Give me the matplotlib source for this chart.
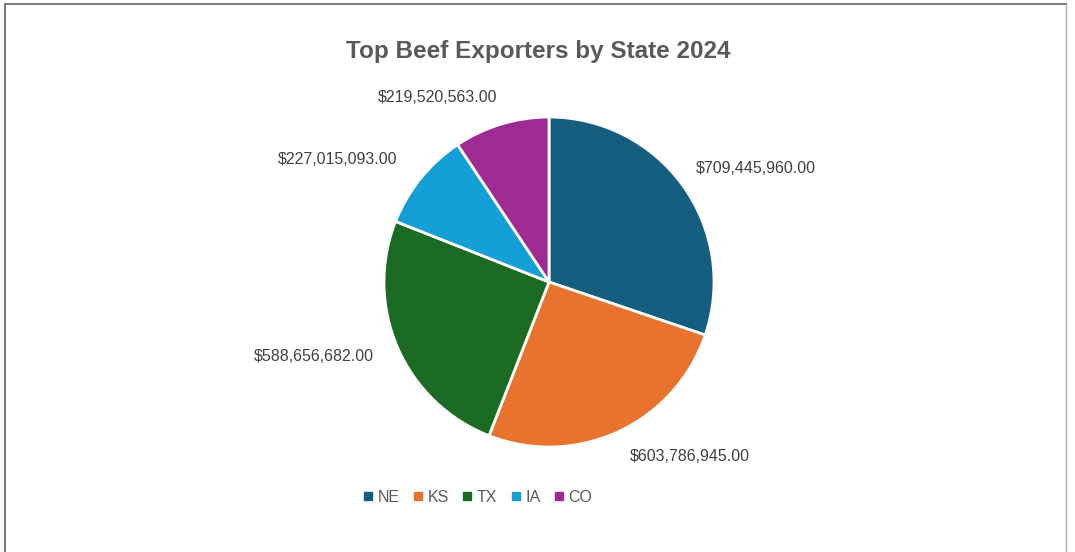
import matplotlib.pyplot as plt
import numpy as np

states = ['NE', 'KS', 'TX', 'IA', 'CO']
exports = [709445960.00, 603786945.00, 588656682.00, 227015093.00, 219520563.00]
colors = ['#165E7F', '#E8732F', '#1B6B25', '#149FD6', '#A02A94']

plt.rcParams['font.family'] = ['Liberation Sans', 'DejaVu Sans']

fig = plt.figure(figsize=(10.75, 5.52), dpi=100)

# chart border (top/left/right only, bottom is cut off)
fig.add_artist(plt.Line2D([0.005, 0.005], [0, 0.993], color='#7f7f7f', lw=1.5, transform=fig.transFigure))
fig.add_artist(plt.Line2D([0.005, 0.992], [0.993, 0.993], color='#7f7f7f', lw=1.5, transform=fig.transFigure))
fig.add_artist(plt.Line2D([0.992, 0.992], [0, 0.993], color='#b0b0b0', lw=1.0, transform=fig.transFigure))

r_px = 165
ax = fig.add_axes([(549 - r_px) / 1075, (552 - 282 - r_px) / 552, 2 * r_px / 1075, 2 * r_px / 552])
wedges, _ = ax.pie(exports, colors=colors, startangle=90, counterclock=False,
                   wedgeprops=dict(edgecolor='white', linewidth=2))
ax.set_xlim(-1, 1)
ax.set_ylim(-1, 1)

# label placement tweaks (distance, angle shift) to mimic Excel's best fit
dist = [1.432, 1.358, 1.495, 1.477, 1.305]
shift = [-6.8, 14, -5.9, 8.9, 14.3]
for i, w in enumerate(wedges):
    ang = np.deg2rad((w.theta1 + w.theta2) / 2 + shift[i])
    x, y = dist[i] * np.cos(ang), dist[i] * np.sin(ang)
    ax.text(x, y, '${:,.2f}'.format(exports[i]), ha='center', va='center',
            fontsize=11.5, color='#404040')

fig.text(0.5005, 0.906, 'Top Beef Exporters by State 2024', ha='center', va='center',
         fontsize=17.5, fontweight='bold', color='#595959')

handles = [plt.Line2D([], [], marker='s', linestyle='', markersize=6, color=c) for c in colors]
fig.legend(handles, states, loc='center', bbox_to_anchor=(0.443, 0.099), ncol=5,
           frameon=False, fontsize=11.5, labelcolor='#595959', handletextpad=0.1,
           columnspacing=0.65, handlelength=1.0)

plt.savefig('out.png', dpi=100)
